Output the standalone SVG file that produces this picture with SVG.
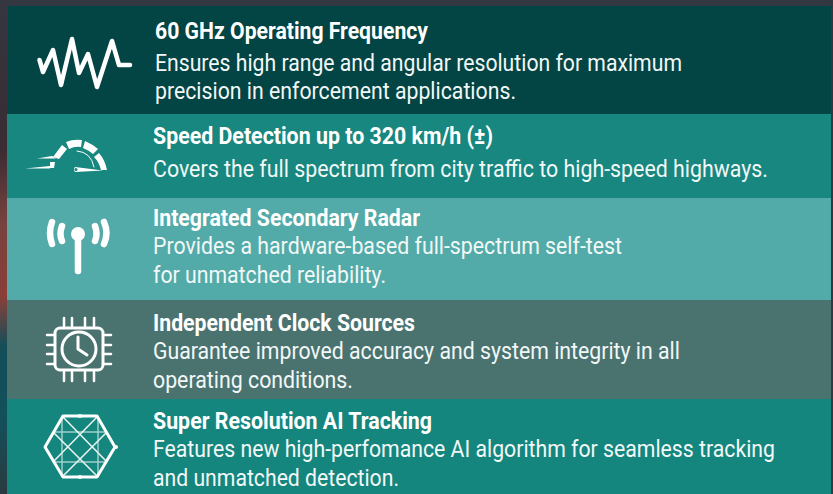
<svg xmlns="http://www.w3.org/2000/svg" width="833" height="494" viewBox="0 0 833 494">
<style>
text{font-family:"Roboto","Liberation Sans",sans-serif;fill:#fff}
.t{font-size:23.500px;font-weight:700}
.b{font-size:24px;font-weight:400;fill:#f2f8f7}
.s{fill:none;stroke:#fff;stroke-linecap:round;stroke-linejoin:round}
</style>
<defs>
<linearGradient id="bg" x1="0" y1="0" x2="0" y2="1">
<stop offset="0" stop-color="#34363f"/><stop offset=".3" stop-color="#3a2c33"/><stop offset=".45" stop-color="#77423e"/><stop offset=".6" stop-color="#8a3f38"/><stop offset=".7" stop-color="#144e58"/><stop offset=".85" stop-color="#13505a"/><stop offset="1" stop-color="#2a3a40"/>
</linearGradient>
</defs>
<rect width="833" height="494" fill="#33373f"/>
<rect width="8" height="494" fill="url(#bg)"/>
<g id="row-1">
<rect x="8" y="6" width="823" height="108" fill="#034444"/>
<path class="s" stroke-width="4.500" d="M39.500 60L43 72L53 50L61 85L72 39L79 73L88 54L97 87L112 41L119 65H130"/>
<text class="t" transform="translate(155 39) scale(.89 1)" textLength="306.700" lengthAdjust="spacingAndGlyphs">60 GHz Operating Frequency</text>
<text class="b" transform="translate(155 71) scale(.89 1)" textLength="592.100" lengthAdjust="spacingAndGlyphs">Ensures high range and angular resolution for maximum</text>
<text class="b" transform="translate(155 99) scale(.89 1)" textLength="405.600" lengthAdjust="spacingAndGlyphs">precision in enforcement applications.</text>
</g>
<g id="row-2">
<rect x="7" y="114" width="824" height="84" fill="#17877f"/>
<g fill="#fff">
<path d="M37 158.500L52 156L56 158.500Z"/>
<path d="M25 168.500L50 166V168.500Z"/>
<path d="M50 162H55L54 168H50Z"/>
<path d="M53 157L62 145L67 149L59 159Z"/>
<path d="M66 142Q73 139 82 140L81 147Q75 146 69 149Z"/>
<path d="M85 141Q92 144 98 149L93 154Q88 150 83 148Z"/>
<path d="M99 153Q105 160 107 170H101Q99 162 94 157Z"/>
<path d="M75 167L103 170.500L75 172Q73 169.500 75 167Z"/>
</g>
<path class="s" stroke-width="1" d="M77 151Q91 152 94 167"/>
<circle cx="76" cy="169.500" r="1.500" fill="#17877f"/>
<text class="t" transform="translate(153 143.500) scale(.89 1)" textLength="382" lengthAdjust="spacingAndGlyphs">Speed Detection up to 320 km/h (±)</text>
<text class="b" transform="translate(153 177) scale(.89 1)" textLength="691" lengthAdjust="spacingAndGlyphs">Covers the full spectrum from city traffic to high-speed highways.</text>
</g>
<g id="row-3">
<rect x="7" y="198" width="824" height="102" fill="#52aba8"/>
<circle cx="78" cy="234" r="7" fill="#fff"/>
<path class="s" stroke-width="6.500" d="M78 236V271"/>
<path class="s" stroke-width="6.500" d="M62 226Q59 234 62 241M52 222Q48 233 52 244M95 226Q98 234 95 241M104 222Q109 233 104 244"/>
<text class="t" transform="translate(153 226) scale(.89 1)" textLength="300" lengthAdjust="spacingAndGlyphs">Integrated Secondary Radar</text>
<text class="b" transform="translate(153 254) scale(.89 1)" textLength="527" lengthAdjust="spacingAndGlyphs">Provides a hardware-based full-spectrum self-test</text>
<text class="b" transform="translate(153 283) scale(.89 1)" textLength="261.800" lengthAdjust="spacingAndGlyphs">for unmatched reliability.</text>
</g>
<g id="row-4">
<rect x="7" y="300" width="824" height="99" fill="#4a7370"/>
<rect x="55" y="328" width="48" height="42" rx="5" class="s" stroke-width="3"/>
<circle cx="79" cy="349" r="17" class="s" stroke-width="3"/>
<path class="s" stroke-width="3" d="M78 337V349L87 355"/>
<path class="s" stroke-width="2.500" stroke-linecap="butt" d="M64 318V326M72 318V326M85 318V326M94 318V326M64 372V381M72 372V381M85 372V381M94 372V381M47 335H54M47 345H54M47 354H54M47 364H54M104 335H111M104 345H111M104 354H111M104 364H111"/>
<text class="t" transform="translate(153 331) scale(.89 1)" textLength="294.400" lengthAdjust="spacingAndGlyphs">Independent Clock Sources</text>
<text class="b" transform="translate(153 359) scale(.89 1)" textLength="592.100" lengthAdjust="spacingAndGlyphs">Guarantee improved accuracy and system integrity in all</text>
<text class="b" transform="translate(153 388) scale(.89 1)" textLength="224.700" lengthAdjust="spacingAndGlyphs">operating conditions.</text>
</g>
<g id="row-5">
<rect x="7" y="399" width="824" height="95" fill="#14867e"/>
<path d="M53 432H107M53 462H107M62 416V477M98 416V477" fill="none" stroke="#cfe6e3" stroke-width="1.500" opacity=".75"/>
<path d="M62 416L107 462M98 416L53 462M62 477L107 432M98 477L53 432" fill="none" stroke="#e6f3f1" stroke-width="1.600"/>
<path class="s" stroke-width="3" d="M45 447L63 416H97L115 447L97 477H63Z"/>
<g fill="#fff"><circle cx="80" cy="416" r="2"/><circle cx="80" cy="477" r="2"/><circle cx="116" cy="447" r="2"/></g>
<text class="t" transform="translate(153 428.500) scale(.89 1)" textLength="313.500" lengthAdjust="spacingAndGlyphs">Super Resolution AI Tracking</text>
<text class="b" transform="translate(153 457) scale(.89 1)" textLength="698.900" lengthAdjust="spacingAndGlyphs">Features new high-perfomance AI algorithm for seamless tracking</text>
<text class="b" transform="translate(153 486) scale(.89 1)" textLength="276.400" lengthAdjust="spacingAndGlyphs">and unmatched detection.</text>
</g>
</svg>
